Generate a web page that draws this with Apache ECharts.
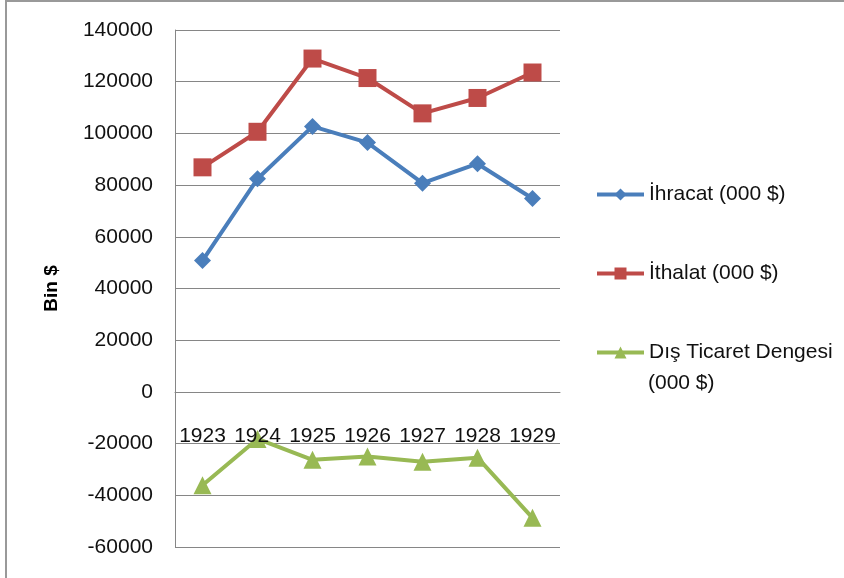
<!DOCTYPE html>
<html>
<head>
<meta charset="utf-8">
<script src="https://cdn.jsdelivr.net/npm/echarts@6/dist/echarts.min.js"></script>
<style>
  html, body { margin: 0; padding: 0; background: #fff; }
  #frame {
    position: absolute; left: 5px; top: 0;
    width: 900px; height: 620px;
    border: 2px solid #999;
    box-sizing: border-box;
  }
  #chart { position: absolute; left: 0; top: 0; width: 844px; height: 578px; }
</style>
</head>
<body>
<div id="frame"></div>
<div id="chart"></div>
<script>
const years = ['1923', '1924', '1925', '1926', '1927', '1928', '1929']
const exports = [50790, 82435, 102700, 96437, 80749, 88278, 74827]
const imports = [86872, 100625, 128953, 121411, 107752, 113710, 123558]
const balance = [-36082, -18190, -26253, -24974, -27003, -25432, -48731]

const seriesNames = ['İhracat (000 $)', 'İthalat (000 $)', 'Dış Ticaret Dengesi (000 $)']
const colors = ['#4a7ebb', '#be4b48', '#98b954']
const symbols = ['diamond', 'rect', 'triangle']

const font = '"Liberation Sans", Arial, sans-serif'

const chart = echarts.init(document.getElementById('chart'))

const makeSeries = (idx, data) => ({
  name: seriesNames[idx],
  type: 'line',
  data: data,
  symbol: symbols[idx],
  symbolSize: idx === 0 ? 17 : 18,
  lineStyle: { width: 4, color: colors[idx] },
  itemStyle: { color: colors[idx] },
  animation: false
})

chart.setOption({
  animation: false,
  textStyle: { fontFamily: font },
  grid: { left: 175, right: 284, top: 30, bottom: 31, containLabel: false, outerBoundsMode: 'none' },
  legend: {
    orient: 'vertical',
    left: 590,
    top: 179,
    itemGap: 58,
    itemWidth: 47,
    itemHeight: 15,
    lineStyle: { width: 4 },
    textStyle: { fontSize: 21, color: '#111', fontFamily: font },
    // long name wraps: second part drawn below as graphic text
    formatter: name => name.replace(' (000 $)', name.length > 20 ? '' : ' (000 $)'),
    data: seriesNames
  },
  graphic: [{
    type: 'text',
    left: 648,
    top: 373,
    style: { text: '(000 $)', fontSize: 21, fill: '#111', fontFamily: font }
  }],
  xAxis: {
    type: 'category',
    data: years,
    boundaryGap: true,
    offset: -155,
    z: 5,
    axisLine: { onZero: false, lineStyle: { color: '#868686', width: 1 } },
    axisTick: { show: false },
    axisLabel: { fontSize: 21, color: '#111', margin: 34, interval: 0, fontFamily: font }
  },
  yAxis: {
    type: 'value',
    min: -60000,
    max: 140000,
    interval: 20000,
    name: 'Bin $',
    nameLocation: 'middle',
    nameGap: 114,
    nameTextStyle: { fontSize: 19, fontWeight: 'bold', color: '#000', fontFamily: font },
    axisLine: { show: true, lineStyle: { color: '#868686', width: 1 } },
    axisTick: { show: false },
    axisLabel: { fontSize: 21, color: '#111', margin: 22, fontFamily: font, formatter: v => String(v) },
    splitLine: { lineStyle: { color: '#868686', width: 1 } }
  },
  series: [
    makeSeries(0, exports),
    makeSeries(1, imports),
    makeSeries(2, balance)
  ]
})
</script>
</body>
</html>
